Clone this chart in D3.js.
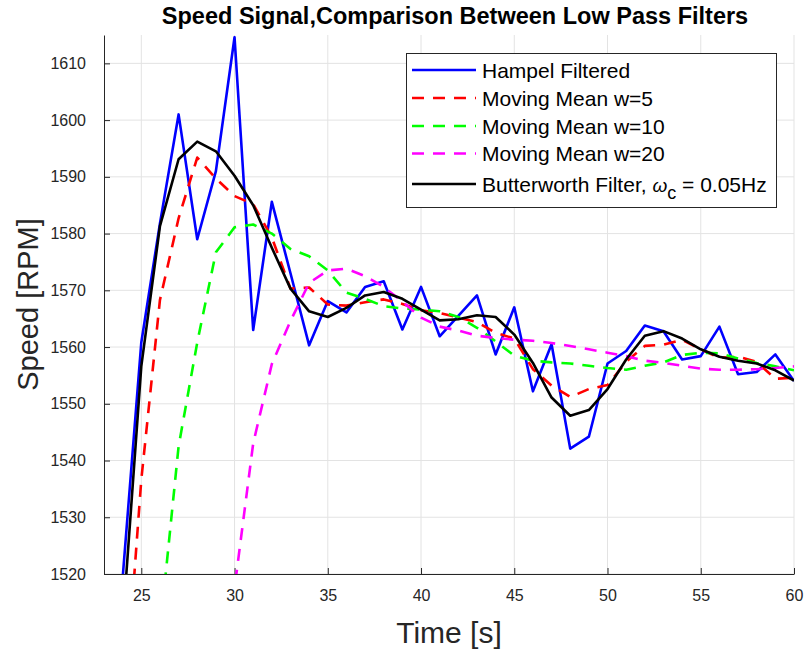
<!DOCTYPE html>
<html>
<head>
<meta charset="utf-8">
<script src="https://cdn.jsdelivr.net/npm/d3@7"></script>
<style>
  body { margin: 0; background: #fff; }
  svg { display: block; font-family: "Liberation Sans", Arial, Helvetica, sans-serif; }
</style>
</head>
<body>
<div class="chart"></div>
<script>
const w = 807;
const h = 652;
const margin = { left: 104, right: 13, top: 35, bottom: 78 };

// time samples [s]
const timeS = [23, 24, 25, 26, 27, 28, 29, 30, 31, 32, 33, 34, 35, 36, 37, 38, 39, 40, 41,
  42, 43, 44, 45, 46, 47, 48, 49, 50, 51, 52, 53, 54, 55, 56, 57, 58, 59, 60];

// speed [RPM]
const hampel = [1420, 1519.3, 1560.8, 1581.8, 1601.0, 1579.0, 1591.0, 1614.6, 1563.0, 1585.6,
  1573.0, 1560.3, 1568.1, 1566.1, 1570.6, 1571.6, 1563.1, 1570.6, 1561.9, 1565.5,
  1569.1, 1558.7, 1567.0, 1552.2, 1560.5, 1542.1, 1544.2, 1557.1, 1559.3, 1563.8,
  1562.8, 1557.8, 1558.4, 1563.6, 1555.2, 1555.6, 1558.7, 1554.0];
const movMean5 = [1445, 1492, 1536.6, 1568.3, 1582.7, 1593.4, 1589.7, 1586.6, 1585.2, 1579.3,
  1570.3, 1570.5, 1567.5, 1567.3, 1567.9, 1568.4, 1567.6, 1566.5, 1566.0, 1565.2,
  1564.4, 1562.5, 1561.5, 1556.1, 1553.2, 1551.2, 1552.6, 1553.3, 1557.4, 1560.2,
  1560.4, 1561.3, 1559.6, 1558.1, 1558.3, 1557.4, 1554.4, 1554.6];
const movMean10 = [1430, 1455, 1482, 1510, 1542.5, 1560.8, 1576.7, 1581.1, 1581.6, 1580.0,
  1577.3, 1576.0, 1573.5, 1569.6, 1568.5, 1567.2, 1566.8, 1566.6, 1566.3, 1565.3,
  1563.4, 1561.0, 1558.5, 1557.6, 1557.3, 1557.1, 1556.7, 1556.3, 1556.0, 1556.7,
  1557.3, 1558.6, 1559.0, 1558.9, 1558.0, 1557.2, 1556.6, 1555.9];
const movMean20 = [1350, 1370, 1390, 1412, 1436, 1462, 1490, 1517.5, 1543.0, 1557.0,
  1564.6, 1571.3, 1573.5, 1573.8, 1572.5, 1570.6, 1568.0, 1565.2, 1563.6, 1562.9,
  1562.0, 1561.6, 1561.3, 1561.1, 1560.7, 1560.2, 1559.6, 1559.0, 1558.4, 1557.6,
  1557.2, 1556.7, 1556.2, 1556.0, 1556.0, 1556.1, 1556.3, 1556.6];
const butter = [1462, 1511, 1556.6, 1581.3, 1593.1, 1596.2, 1594.5, 1590.2, 1585.0, 1577.5,
  1570.3, 1566.3, 1565.3, 1566.9, 1569.1, 1569.7, 1568.5, 1566.6, 1564.7, 1564.9,
  1565.6, 1565.3, 1562.2, 1557.2, 1551.1, 1547.9, 1548.9, 1552.6, 1557.8, 1562.0,
  1562.8, 1561.5, 1559.6, 1558.3, 1557.6, 1557.1, 1555.9, 1554.1];

const xTicks = [25, 30, 35, 40, 45, 50, 55, 60];
const yTicks = [1520, 1530, 1540, 1550, 1560, 1570, 1580, 1590, 1600, 1610];

const series = [
  { name: "Hampel Filtered", values: hampel, color: "#0000ff", dash: null },
  { name: "Moving Mean w=5", values: movMean5, color: "#ff0000", dash: "12,9" },
  { name: "Moving Mean w=10", values: movMean10, color: "#00ff00", dash: "12,9" },
  { name: "Moving Mean w=20", values: movMean20, color: "#ff00ff", dash: "12,9" },
  { name: "Butterworth Filter", values: butter, color: "#000000", dash: null },
];

const svg = d3.select(".chart").append("svg").attr("width", w).attr("height", h);

const x = d3.scaleLinear().domain([23, 60]).range([margin.left, w - margin.right]);
const y = d3.scaleLinear().domain([1520, 1615]).range([h - margin.bottom, margin.top]);

//grid
svg.append("g").selectAll("line").data(xTicks).enter().append("line")
  .attr("x1", d => x(d)).attr("x2", d => x(d))
  .attr("y1", y.range()[1]).attr("y2", y.range()[0])
  .attr("stroke", "#e3e3e3").attr("stroke-width", 1);
svg.append("g").selectAll("line").data(yTicks).enter().append("line")
  .attr("x1", x.range()[0]).attr("x2", x.range()[1])
  .attr("y1", d => y(d)).attr("y2", d => y(d))
  .attr("stroke", "#e3e3e3").attr("stroke-width", 1);

//axes
const xAxis = svg.append("g")
  .attr("transform", `translate(0,${h - margin.bottom})`)
  .call(d3.axisBottom(x).tickValues(xTicks).tickSizeInner(-6).tickSizeOuter(0).tickPadding(16));
const yAxis = svg.append("g")
  .attr("transform", `translate(${margin.left},0)`)
  .call(d3.axisLeft(y).tickValues(yTicks).tickFormat(d3.format("d"))
    .tickSizeInner(-6).tickSizeOuter(0).tickPadding(18));
[xAxis, yAxis].forEach(a => {
  a.select(".domain").attr("stroke", "#262626").attr("stroke-width", 1);
  a.selectAll(".tick line").attr("stroke", "#262626");
  a.selectAll(".tick text").attr("fill", "#262626")
    .style("font-size", "16px").style("font-family", "Liberation Sans, Arial, sans-serif");
});

//lines
svg.append("clipPath").attr("id", "plotClip").append("rect")
  .attr("x", margin.left).attr("y", margin.top)
  .attr("width", w - margin.left - margin.right)
  .attr("height", h - margin.top - margin.bottom);

const line = d3.line().x((d, i) => x(timeS[i])).y(d => y(d));

svg.append("g").attr("clip-path", "url(#plotClip)")
  .selectAll("path").data(series).enter().append("path")
  .attr("d", d => line(d.values))
  .attr("fill", "none")
  .attr("stroke", d => d.color)
  .attr("stroke-width", 2.6)
  .attr("stroke-linejoin", "round")
  .attr("stroke-dasharray", d => d.dash);

//title and labels
svg.append("text").attr("x", 455).attr("y", 24)
  .attr("text-anchor", "middle").style("font-weight", "bold").style("font-size", "23.5px")
  .attr("fill", "#000")
  .text("Speed Signal,Comparison Between Low Pass Filters");

svg.append("text").attr("x", (x.range()[0] + x.range()[1]) / 2).attr("y", 643)
  .attr("text-anchor", "middle").style("font-size", "30px").attr("fill", "#262626")
  .text("Time [s]");

svg.append("text").attr("transform", `translate(38,${(y.range()[0] + y.range()[1]) / 2}) rotate(-90)`)
  .attr("text-anchor", "middle").style("font-size", "29px").attr("fill", "#262626")
  .text("Speed [RPM]");

//legend
const legend = svg.append("g").attr("id", "legend");
legend.append("rect")
  .attr("x", 406.5).attr("y", 53.5).attr("width", 370).attr("height", 154)
  .attr("fill", "#fff").attr("stroke", "#262626").attr("stroke-width", 1);

const rowY = [70, 98, 126, 153.5, 184];
legend.selectAll("line.item").data(series).enter().append("line")
  .attr("class", "item")
  .attr("x1", 412).attr("x2", 476)
  .attr("y1", (d, i) => rowY[i]).attr("y2", (d, i) => rowY[i])
  .attr("stroke", d => d.color).attr("stroke-width", 2.6)
  .attr("stroke-dasharray", d => d.dash);

const labels = legend.selectAll("text.item").data(series).enter().append("text")
  .attr("class", "item")
  .attr("x", 482).attr("y", (d, i) => rowY[i] + 7.5)
  .style("font-size", "21px").attr("fill", "#000");
labels.each(function (d) {
  const t = d3.select(this);
  if (d.name === "Butterworth Filter") {
    t.append("tspan").text("Butterworth Filter, ");
    t.append("tspan").style("font-style", "italic").style("font-size", "19px").text("\u03c9");
    t.append("tspan").attr("dy", 7).style("font-size", "18px").text("c");
    t.append("tspan").attr("dy", -7).text(" = 0.05Hz");
  } else {
    t.text(d.name);
  }
});
</script>
</body>
</html>
